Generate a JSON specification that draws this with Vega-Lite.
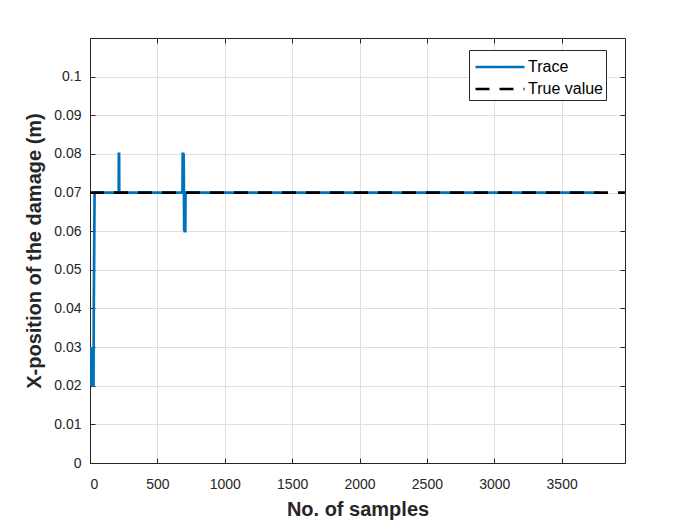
{
  "$schema": "https://vega.github.io/schema/vega-lite/v6.json",
  "width": 535,
  "height": 425,
  "autosize": "none",
  "padding": {"left": 90, "top": 38, "right": 66, "bottom": 62},
  "background": "white",
  "config": {
    "font": "Liberation Sans",
    "view": {"stroke": "#262626", "strokeWidth": 1},
    "axis": {
      "domainColor": "#262626",
      "tickColor": "#262626",
      "labelColor": "#262626",
      "titleColor": "#262626",
      "labelFontSize": 14,
      "titleFontSize": 20,
      "titleFontWeight": "bold",
      "gridColor": "#dfdfdf",
      "gridWidth": 1,
      "tickSize": -5
    },
    "legend": {
      "title": null,
      "orient": "none",
      "legendX": 379,
      "legendY": 12,
      "fillColor": "white",
      "strokeColor": "#262626",
      "padding": 3,
      "symbolType": "M-2,0H2",
      "symbolSize": 600,
      "symbolOffset": 14,
      "symbolStrokeWidth": 2.7,
      "labelFontSize": 16,
      "labelColor": "#000000",
      "labelOffset": 14,
      "rowPadding": -3
    }
  },
  "resolve": {"axis": {"x": "independent", "y": "independent"}},
  "datasets": {
    "lines": [
      {"sample": 0, "value": 0.03, "series": "Trace"},
      {"sample": 3, "value": 0.02, "series": "Trace"},
      {"sample": 5, "value": 0.03, "series": "Trace"},
      {"sample": 8, "value": 0.02, "series": "Trace"},
      {"sample": 10, "value": 0.03, "series": "Trace"},
      {"sample": 13, "value": 0.02, "series": "Trace"},
      {"sample": 15, "value": 0.03, "series": "Trace"},
      {"sample": 18, "value": 0.02, "series": "Trace"},
      {"sample": 20, "value": 0.03, "series": "Trace"},
      {"sample": 23, "value": 0.02, "series": "Trace"},
      {"sample": 26, "value": 0.02, "series": "Trace"},
      {"sample": 28, "value": 0.04, "series": "Trace"},
      {"sample": 30, "value": 0.05, "series": "Trace"},
      {"sample": 32, "value": 0.06, "series": "Trace"},
      {"sample": 34, "value": 0.07, "series": "Trace"},
      {"sample": 213, "value": 0.07, "series": "Trace"},
      {"sample": 214, "value": 0.08, "series": "Trace"},
      {"sample": 216, "value": 0.08, "series": "Trace"},
      {"sample": 217, "value": 0.07, "series": "Trace"},
      {"sample": 686, "value": 0.07, "series": "Trace"},
      {"sample": 688, "value": 0.08, "series": "Trace"},
      {"sample": 691, "value": 0.08, "series": "Trace"},
      {"sample": 693, "value": 0.07, "series": "Trace"},
      {"sample": 695, "value": 0.08, "series": "Trace"},
      {"sample": 697, "value": 0.07, "series": "Trace"},
      {"sample": 699, "value": 0.06, "series": "Trace"},
      {"sample": 702, "value": 0.07, "series": "Trace"},
      {"sample": 704, "value": 0.06, "series": "Trace"},
      {"sample": 707, "value": 0.06, "series": "Trace"},
      {"sample": 709, "value": 0.07, "series": "Trace"},
      {"sample": 3780, "value": 0.07, "series": "Trace"},
      {"sample": 0, "value": 0.07, "series": "True value"},
      {"sample": 3970, "value": 0.07, "series": "True value"}
    ]
  },
  "layer": [
    {
      "data": {"name": "lines"},
      "mark": {"type": "line", "strokeWidth": 2.7, "clip": true},
      "encoding": {
        "x": {
          "field": "sample", "type": "quantitative",
          "scale": {"domain": [0, 3970], "nice": false, "zero": false},
          "axis": {"orient": "bottom", "title": "No. of samples", "format": "d", "values": [0, 500, 1000, 1500, 2000, 2500, 3000, 3500], "grid": true, "labelPadding": 19, "titlePadding": 8}
        },
        "y": {
          "field": "value", "type": "quantitative",
          "scale": {"domain": [0, 0.11], "nice": false},
          "axis": {"orient": "left", "title": "X-position of the damage (m)", "values": [0, 0.01, 0.02, 0.03, 0.04, 0.05, 0.06, 0.07, 0.08, 0.09, 0.1], "format": ".2~f", "grid": true, "labelPadding": 14, "titlePadding": 9}
        },
        "color": {
          "field": "series", "type": "nominal",
          "scale": {"domain": ["Trace", "True value"], "range": ["#0072BD", "#000000"]}
        },
        "strokeDash": {
          "field": "series", "type": "nominal",
          "scale": {"domain": ["Trace", "True value"], "range": [[1, 0], [14, 10]]}
        }
      }
    },
    {
      "data": {"name": "lines"},
      "mark": {"type": "point", "opacity": 0},
      "encoding": {
        "x": {
          "field": "sample", "type": "quantitative",
          "axis": {"orient": "top", "title": null, "labels": false, "domain": false, "grid": false, "values": [0, 500, 1000, 1500, 2000, 2500, 3000, 3500]}
        },
        "y": {
          "field": "value", "type": "quantitative",
          "axis": {"orient": "right", "title": null, "labels": false, "domain": false, "grid": false, "values": [0, 0.01, 0.02, 0.03, 0.04, 0.05, 0.06, 0.07, 0.08, 0.09, 0.1]}
        }
      }
    }
  ]
}
